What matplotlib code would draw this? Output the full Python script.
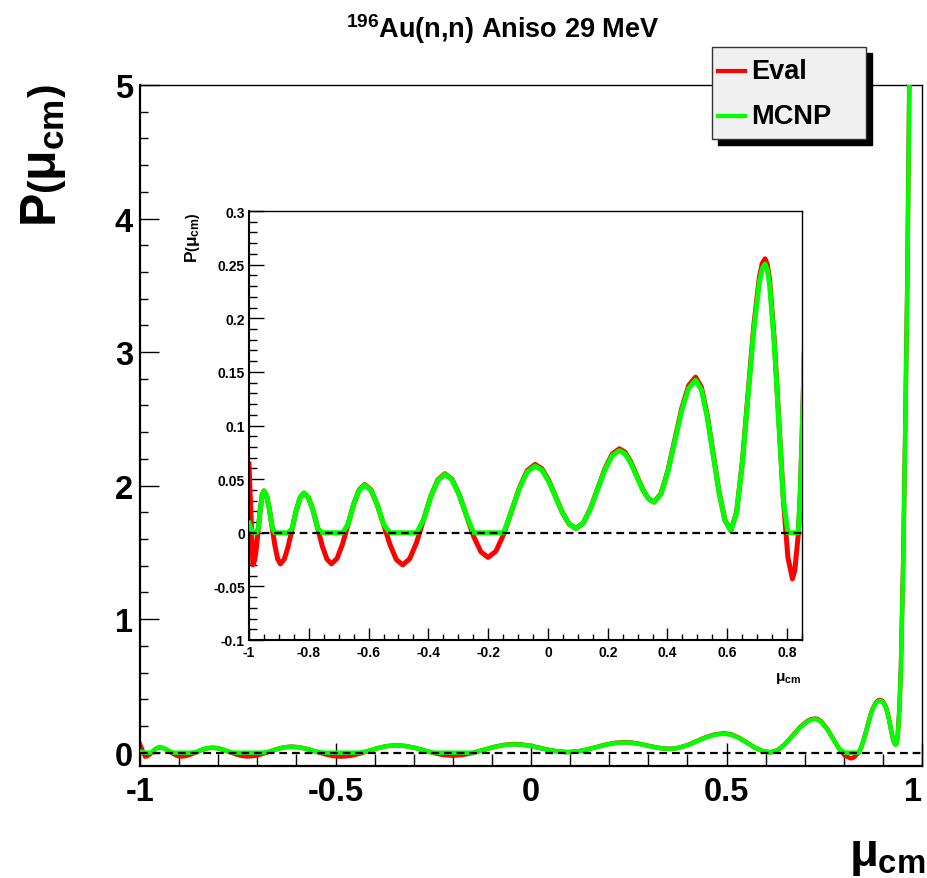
import numpy as np
import matplotlib
matplotlib.use('Agg')
import matplotlib.pyplot as plt
from matplotlib.patches import Rectangle
from matplotlib.lines import Line2D
from matplotlib.ticker import MultipleLocator, FixedLocator, FixedFormatter

plt.rcParams['font.family'] = ['Liberation Sans', 'DejaVu Sans']
plt.rcParams['font.weight'] = 'bold'
plt.rcParams['axes.unicode_minus'] = False
plt.rcParams['mathtext.fontset'] = 'custom'
plt.rcParams['mathtext.rm'] = 'Liberation Sans:bold'
plt.rcParams['mathtext.it'] = 'Liberation Sans:bold'
plt.rcParams['mathtext.bf'] = 'Liberation Sans:bold'
plt.rcParams['mathtext.sf'] = 'Liberation Sans:bold'

# ---------------- data ----------------
mu = [-1.0, -0.9935, -0.987, -0.9808, -0.9747, -0.9685, -0.9623, -0.9562, -0.95,
      -0.9408, -0.9317, -0.9225, -0.9133, -0.9042, -0.895,
      -0.8818, -0.8687, -0.8555, -0.8423, -0.8292, -0.816,
      -0.8007, -0.7853, -0.770, -0.7547, -0.7393, -0.724,
      -0.7055, -0.687, -0.6685, -0.650, -0.6315, -0.613,
      -0.5918, -0.5707, -0.5495, -0.5283, -0.5072, -0.486,
      -0.4625, -0.439, -0.4155, -0.392, -0.3685, -0.345,
      -0.3208, -0.2967, -0.2725, -0.2483, -0.2242, -0.200,
      -0.1738, -0.1477, -0.1215, -0.0953, -0.0692, -0.043,
      -0.0202, 0.0027, 0.0255, 0.0483, 0.0712, 0.094,
      0.1182, 0.1423, 0.1665, 0.1907, 0.2148, 0.239,
      0.2583, 0.2777, 0.297, 0.3163, 0.3357, 0.355,
      0.3782, 0.4013, 0.4245, 0.4477, 0.4708, 0.494,
      0.5137, 0.5333, 0.553, 0.5727, 0.5923, 0.612,
      0.6311, 0.6502, 0.6693, 0.6883, 0.7074, 0.717, 0.7265,
      0.734, 0.7418, 0.757, 0.7723, 0.7875, 0.8028, 0.818,
      0.826, 0.832, 0.838, 0.844, 0.850, 0.858, 0.866, 0.874, 0.882, 0.888, 0.893,
      0.900, 0.908, 0.915, 0.921, 0.926, 0.930, 0.9325,
      0.935, 0.938, 0.942, 0.946, 0.952, 0.957, 0.9625, 0.9675, 0.975, 0.985, 1.0]

p_eval = [0.064, 0.017, -0.030, -0.0254, -0.0128, 0.0045, 0.0218, 0.0344, 0.039,
          0.0344, 0.022, 0.005, -0.012, -0.0244, -0.029,
          -0.0246, -0.0125, 0.004, 0.0205, 0.0326, 0.037,
          0.0326, 0.0205, 0.004, -0.0125, -0.0246, -0.029,
          -0.024, -0.0105, 0.008, 0.0265, 0.040, 0.045,
          0.040, 0.026, 0.0075, -0.011, -0.025, -0.030,
          -0.0243, -0.0088, 0.0125, 0.0338, 0.0493, 0.055,
          0.0498, 0.0355, 0.016, -0.0035, -0.0178, -0.023,
          -0.0172, -0.0013, 0.0204, 0.042, 0.058, 0.0637,
          0.0597, 0.0488, 0.0339, 0.0189, 0.008, 0.004,
          0.009, 0.0226, 0.0412, 0.0597, 0.0733, 0.0783,
          0.075, 0.0659, 0.0535, 0.041, 0.032, 0.0286,
          0.0364, 0.0577, 0.0869, 0.116, 0.1373, 0.1451,
          0.1355, 0.1093, 0.0736, 0.0378, 0.0116, 0.002,
          0.019, 0.0654, 0.1287, 0.192, 0.2384, 0.2510, 0.2554,
          0.2500, 0.2354, 0.1808, 0.1062, 0.0316, -0.023, -0.043,
          -0.035, -0.018, 0.0, 0.035, 0.086, 0.170, 0.260, 0.330, 0.375, 0.392, 0.395,
          0.385, 0.340, 0.260, 0.170, 0.100, 0.068, 0.060,
          0.068, 0.13, 0.32, 0.63, 1.45, 2.4, 3.55, 5.0, 7.3, 10.6, 16.0]

p_mcnp = [0.009, 0.004, 0.0, 0.0, 0.0, 0.0045, 0.0218, 0.0344, 0.039,
          0.0344, 0.022, 0.005, 0.0, 0.0, 0.0,
          0.0, 0.0, 0.004, 0.0205, 0.0326, 0.037,
          0.0326, 0.0205, 0.004, 0.0, 0.0, 0.0,
          0.0, 0.0, 0.008, 0.0265, 0.0395, 0.0445,
          0.0395, 0.026, 0.0075, 0.0, 0.0, 0.0,
          0.0, 0.0, 0.0125, 0.0335, 0.0488, 0.0545,
          0.0493, 0.0352, 0.016, 0.0, 0.0, 0.0,
          0.0, 0.0, 0.0204, 0.0413, 0.0568, 0.0622,
          0.0585, 0.0478, 0.0334, 0.0187, 0.008, 0.004,
          0.009, 0.0223, 0.0405, 0.0586, 0.0718, 0.0765,
          0.0735, 0.0647, 0.0527, 0.0405, 0.0318, 0.0285,
          0.0360, 0.0568, 0.0853, 0.1138, 0.1347, 0.1423,
          0.1330, 0.1073, 0.0722, 0.0371, 0.0114, 0.002,
          0.0187, 0.0642, 0.1262, 0.1883, 0.2338, 0.2462, 0.2505,
          0.2452, 0.2309, 0.1773, 0.1042, 0.031, 0.0, 0.0,
          0.0, 0.0, 0.0, 0.035, 0.086, 0.168, 0.256, 0.325, 0.369, 0.386, 0.389,
          0.379, 0.335, 0.256, 0.168, 0.099, 0.067, 0.059,
          0.067, 0.128, 0.315, 0.62, 1.43, 2.37, 3.5, 4.93, 7.2, 10.45, 15.8]

series_names = ['Eval', 'MCNP']
series_colors = ['#ff0000', '#00ff00']

main_xticks = [-1, -0.5, 0, 0.5, 1]
main_xticklabels = ['-1', '-0.5', '0', '0.5', '1']
main_yticks = [0, 1, 2, 3, 4, 5]
main_yticklabels = ['0', '1', '2', '3', '4', '5']
inset_xticks = [-1, -0.8, -0.6, -0.4, -0.2, 0, 0.2, 0.4, 0.6, 0.8]
inset_xticklabels = ['-1', '-0.8', '-0.6', '-0.4', '-0.2', '0', '0.2', '0.4', '0.6', '0.8']
inset_yticks = [-0.1, -0.05, 0, 0.05, 0.1, 0.15, 0.2, 0.25, 0.3]
inset_yticklabels = ['-0.1', '-0.05', '0', '0.05', '0.1', '0.15', '0.2', '0.25', '0.3']

title = r'$^{196}$Au(n,n) Aniso 29 MeV'

W, H = 927, 879
fig = plt.figure(figsize=(W / 100, H / 100), dpi=100)


def fx(px):
    return px / W


def fy(py):
    return 1 - py / H


def style_axes(a, xmaj, xmin, ymaj, ymin, lab, pad_x, pad_y, spw):
    for s in ['left', 'bottom']:
        a.spines[s].set_linewidth(spw)
    for s in ['top', 'right']:
        a.spines[s].set_linewidth(1.0)
    a.tick_params(axis='x', which='major', direction='in', length=xmaj, width=1.0,
                  labelsize=lab, pad=pad_x, top=False)
    a.tick_params(axis='x', which='minor', direction='in', length=xmin, width=1.0, top=False)
    a.tick_params(axis='y', which='major', direction='in', length=ymaj, width=1.0,
                  labelsize=lab, pad=pad_y, right=False)
    a.tick_params(axis='y', which='minor', direction='in', length=ymin, width=1.0, right=False)
    for t in a.get_xticklabels() + a.get_yticklabels():
        t.set_fontweight('bold')


# ---------------- main axes ----------------
ax = fig.add_axes([fx(140), fy(767), fx(922 - 140), (767 - 86) / H])
ax.plot(mu, p_eval, color=series_colors[0], lw=3.2, zorder=2, label=series_names[0])
ax.plot(mu, p_mcnp, color=series_colors[1], lw=3.2, zorder=3, label=series_names[1])
ax.axhline(0, color='black', lw=1.6, ls=(0, (3.5, 2.2)), zorder=4)
ax.set_xlim(-1, 1)
ax.set_ylim(-0.1, 5)
ax.xaxis.set_major_locator(FixedLocator(main_xticks))
ax.xaxis.set_major_formatter(FixedFormatter(main_xticklabels))
ax.xaxis.set_minor_locator(MultipleLocator(0.1))
ax.yaxis.set_major_locator(FixedLocator(main_yticks))
ax.yaxis.set_major_formatter(FixedFormatter(main_yticklabels))
ax.yaxis.set_minor_locator(MultipleLocator(0.2))
style_axes(ax, 16.5, 8.5, 14, 6, 23.5, 7, 5, 1.6)
ax.get_xticklabels()[-1].set_horizontalalignment('right')

fig.text(fx(44), fy(84), r'P$\left(\mu_{\rm cm}\right)$', rotation=90, ha='center', va='top',
         fontsize=36, fontweight='bold')
fig.text(fx(926), fy(856), r'$\mu_{\rm cm}$', ha='right', va='center', fontsize=34, fontweight='bold')
fig.text(fx(503), fy(29), title, ha='center', va='center', fontsize=19.5, fontweight='bold')

# ---------------- legend (drawn as boxed key) ----------------
lx0, ly0, lx1, ly1 = 712, 48, 866, 140
fig.add_artist(Rectangle((fx(lx0 + 6), fy(ly1 + 6)), fx(lx1 - lx0), (ly1 - ly0) / H,
                         transform=fig.transFigure, facecolor='black', edgecolor='black', zorder=10))
fig.add_artist(Rectangle((fx(lx0), fy(ly1)), fx(lx1 - lx0), (ly1 - ly0) / H,
                         transform=fig.transFigure, facecolor='#f0f0f0', edgecolor='#333333',
                         lw=1.0, zorder=11))
for i, (name, col) in enumerate(zip(series_names, series_colors)):
    yy = 72 + 45 * i
    fig.add_artist(Line2D([fx(718), fx(745)], [fy(yy), fy(yy)], transform=fig.transFigure,
                          color=col, lw=3.0, zorder=12))
    fig.text(fx(751), fy(yy), name, ha='left', va='center', fontsize=19.5,
             fontweight='bold', zorder=12)

# ---------------- inset axes ----------------
axin = fig.add_axes([fx(249), fy(641), fx(802 - 249), (641 - 212) / H])
axin.set_facecolor('white')
axin.plot(mu, p_eval, color=series_colors[0], lw=3.6, zorder=2)
axin.plot(mu, p_mcnp, color=series_colors[1], lw=3.6, zorder=3)
axin.axhline(0, color='black', lw=1.6, ls=(0, (3.5, 2.2)), zorder=4)
axin.set_xlim(-1, 0.85)
axin.set_ylim(-0.1, 0.3)
axin.xaxis.set_major_locator(FixedLocator(inset_xticks))
axin.xaxis.set_major_formatter(FixedFormatter(inset_xticklabels))
axin.xaxis.set_minor_locator(MultipleLocator(0.05))
axin.yaxis.set_major_locator(FixedLocator(inset_yticks))
axin.yaxis.set_major_formatter(FixedFormatter(inset_yticklabels))
axin.yaxis.set_minor_locator(MultipleLocator(0.01))
style_axes(axin, 9, 4.5, 11, 6, 10, 3.5, 3, 1.5)

fig.text(fx(193), fy(212), r'P$\left(\mu_{\rm cm}\right)$', rotation=90, ha='center', va='top',
         fontsize=12.5, fontweight='bold')
fig.text(fx(801), fy(679), r'$\mu_{\rm cm}$', ha='right', va='center', fontsize=11, fontweight='bold')

fig.savefig('out.png', dpi=100)
